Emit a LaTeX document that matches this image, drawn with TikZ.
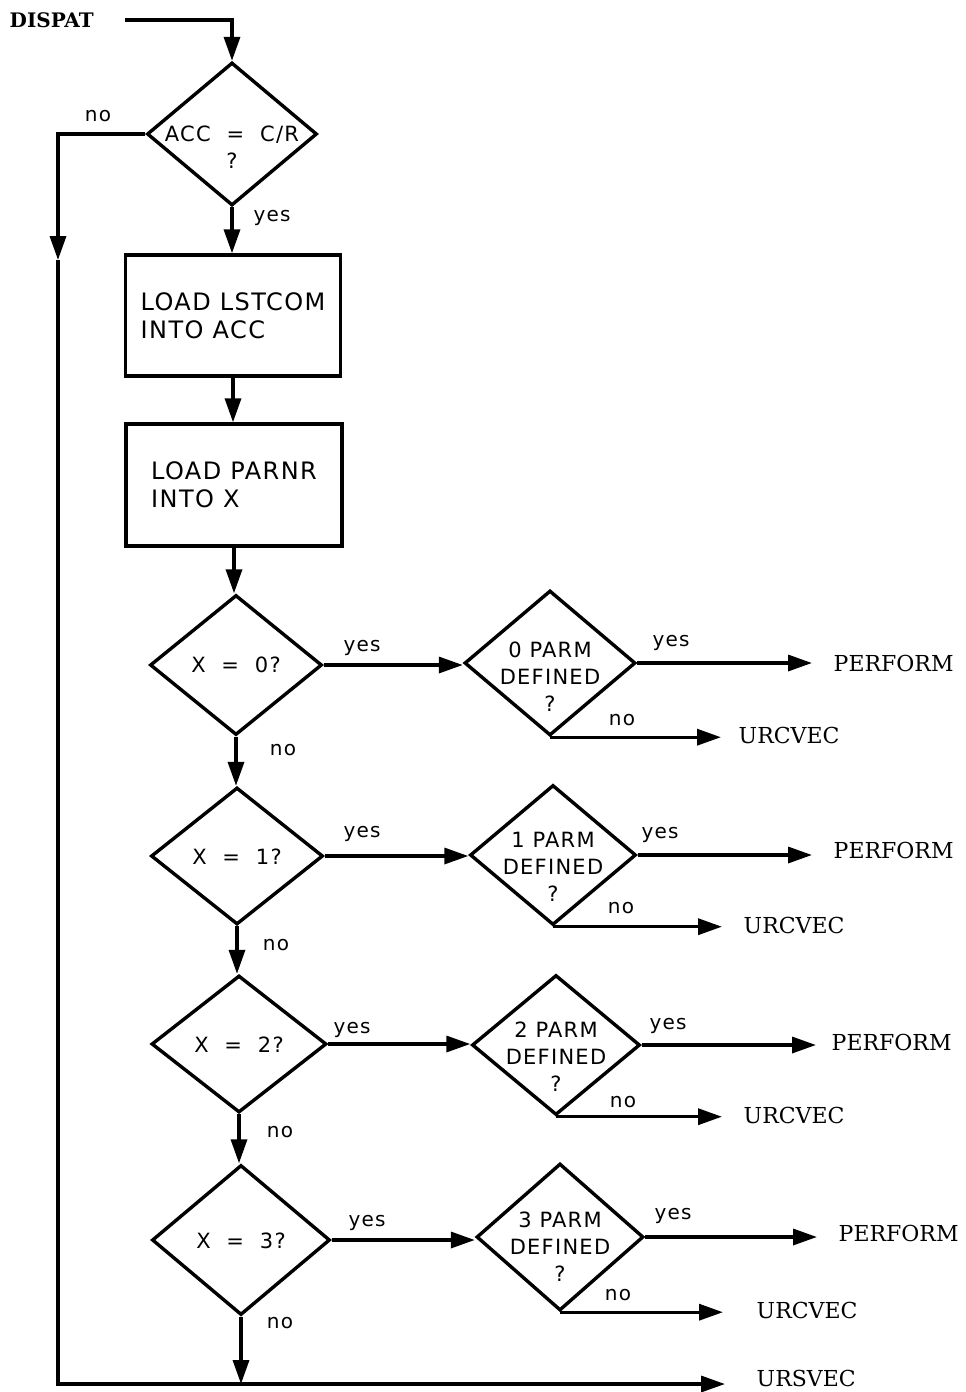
\documentclass[tikz,border=0pt]{standalone}
\usepackage{fontspec}
\setmainfont{DejaVu Serif}
\newfontfamily\lblfont{DejaVu Sans}[LetterSpace=6]
\usetikzlibrary{arrows.meta,shapes.geometric}
\begin{document}
\begin{tikzpicture}[x=0.5pt,y=-0.5pt,line width=1.7pt,line join=miter,
  arr/.style={-{Triangle[length=12pt,width=8pt]}},
  dia/.style n args={2}{draw,shape=diamond,inner sep=0pt,minimum width=#1,minimum height=#2},
  box/.style n args={2}{draw,rectangle,inner sep=0pt,minimum width=#1,minimum height=#2,align=left,
     font=\lblfont\fontsize{12}{14}\selectfont},
  dtext/.style={inner sep=0pt,align=center,font=\lblfont\fontsize{10.5}{13.5}\selectfont},
  yn/.style={inner sep=0pt,font=\lblfont\fontsize{10}{12}\selectfont},
  outl/.style={anchor=west,inner sep=0pt,font=\fontsize{11}{13}\selectfont}]
\useasboundingbox (0,0) rectangle (965,1392);

% start
\node[anchor=west,inner sep=0pt,font=\bfseries\fontsize{10}{12}\selectfont] (dispat) at (8,20) {DISPAT};
\node[dia={85pt}{71.5pt}] (d1) at (232,134) {};
\node[dtext] (d1t) at (232,147) {ACC\ \ =\ \ C/R\\?};

\node[box={107.5pt}{60.5pt}] (b1) at (233,315.5) {LOAD\ LSTCOM\\INTO\ ACC};
\node[box={108pt}{61pt}] (b2) at (234,485) {LOAD\ PARNR\\INTO\ X};

% X tests
\node[dia={86pt}{70pt}] (x0) at (236,665) {};
\node[dtext] (x0t) at (236,665) {X\ \ =\ \ 0?};
\node[dia={86pt}{68.5pt}] (x1) at (237,856) {};
\node[dtext] (x1t) at (237,857) {X\ \ =\ \ 1?};
\node[dia={87.5pt}{68.5pt}] (x2) at (239,1044) {};
\node[dtext] (x2t) at (239,1045) {X\ \ =\ \ 2?};
\node[dia={89pt}{75pt}] (x3) at (241,1240) {};
\node[dtext] (x3t) at (241,1241) {X\ \ =\ \ 3?};

% PARM tests
\node[dia={85.5pt}{72.5pt}] (p0) at (550,663) {};
\node[dtext] (p0t) at (550,677) {0\ PARM\\DEFINED\\?};
\node[dia={83pt}{70pt}] (p1) at (553,855) {};
\node[dtext] (p1t) at (553,867) {1\ PARM\\DEFINED\\?};
\node[dia={84pt}{70pt}] (p2) at (556,1045) {};
\node[dtext] (p2t) at (556,1057) {2\ PARM\\DEFINED\\?};
\node[dia={83.5pt}{73.5pt}] (p3) at (560,1237) {};
\node[dtext] (p3t) at (560,1247) {3\ PARM\\DEFINED\\?};

% exits
\node[outl] (pf0) at (832,663) {PERFORM};
\node[outl] (uc0) at (737,735) {URCVEC};
\node[outl] (pf1) at (832,850) {PERFORM};
\node[outl] (uc1) at (742,925) {URCVEC};
\node[outl] (pf2) at (830,1042) {PERFORM};
\node[outl] (uc2) at (742,1115) {URCVEC};
\node[outl] (pf3) at (837,1233) {PERFORM};
\node[outl] (uc3) at (755,1310) {URCVEC};
\node[outl] (us) at (755,1378) {URSVEC};

% labels
\node[yn] (n1) at (98,116) {no};
\node[yn] (y1) at (272,218) {yes};
\node[yn] (x0y) at (362,648) {yes};
\node[yn] (x0n) at (283,750) {no};
\node[yn] (p0y) at (671,643) {yes};
\node[yn] (p0n) at (622,720) {no};
\node[yn] (x1y) at (362,834) {yes};
\node[yn] (x1n) at (276,945) {no};
\node[yn] (p1y) at (660,835) {yes};
\node[yn] (p1n) at (621,908) {no};
\node[yn] (x2y) at (352,1030) {yes};
\node[yn] (x2n) at (280,1132) {no};
\node[yn] (p2y) at (668,1026) {yes};
\node[yn] (p2n) at (623,1102) {no};
\node[yn] (x3y) at (367,1223) {yes};
\node[yn] (x3n) at (280,1323) {no};
\node[yn] (p3y) at (673,1216) {yes};
\node[yn] (p3n) at (618,1295) {no};

% connectors
\coordinate (la) at (58,260);
\coordinate (lb) at (58,1384);
\draw[arr,shorten <=15pt] (dispat.east) -| (d1.north);
\draw[arr] (d1.west) -| (la);
\draw[arr,shorten >=15pt] (la) -- (lb) -- (lb -| us.west);
\draw[arr] (d1.south) -- (d1.south |- b1.north);
\draw[arr] (b1.south) -- (b1.south |- b2.north);
\draw[arr] (b2.south) -- (b2.south |- x0.north);
\draw[arr] (x0.south) -- (x0.south |- x1.north);
\draw[arr] (x1.south) -- (x1.south |- x2.north);
\draw[arr] (x2.south) -- (x2.south |- x3.north);
\draw[arr] (x3.south) -- (x3.south |- lb);

\draw[arr] (x0.east) -- (x0.east -| p0.west);
\draw[arr] (x1.east) -- (x1.east -| p1.west);
\draw[arr] (x2.east) -- (x2.east -| p2.west);
\draw[arr] (x3.east) -- (x3.east -| p3.west);

\draw[arr,shorten >=10pt] (p0.east) -- (p0.east -| pf0.west);
\draw[arr,shorten >=10pt] (p1.east) -- (p1.east -| pf1.west);
\draw[arr,shorten >=7pt] (p2.east) -- (p2.east -| pf2.west);
\draw[arr,shorten >=10pt] (p3.east) -- (p3.east -| pf3.west);

\draw[arr,shorten >=8pt] (p0.south) -- (p0.south -| uc0.west);
\draw[arr,shorten >=10pt] (p1.south) -- (p1.south -| uc1.west);
\draw[arr,shorten >=10pt] (p2.south) -- (p2.south -| uc2.west);
\draw[arr,shorten >=16pt] (p3.south) -- (p3.south -| uc3.west);
\end{tikzpicture}
\end{document}
